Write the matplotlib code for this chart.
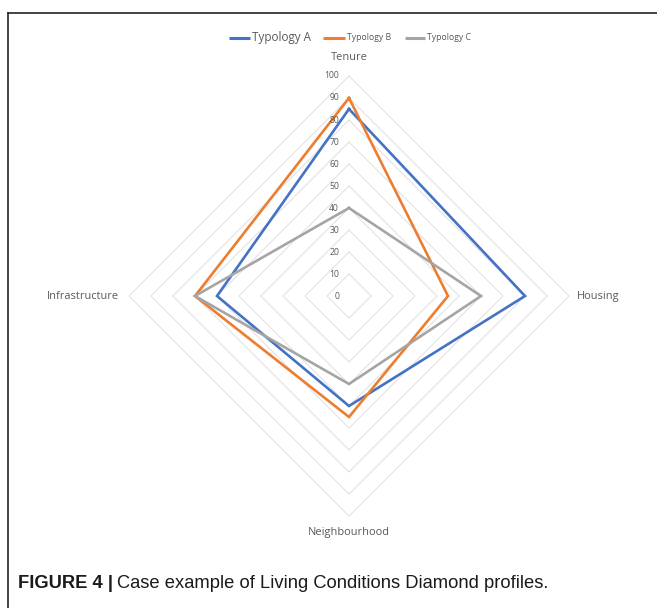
import numpy as np
import matplotlib
matplotlib.use("Agg")
import matplotlib.pyplot as plt

# Radar data
axes_labels = ["Tenure", "Housing", "Neighbourhood", "Infrastructure"]
typology_a = [85, 80, 50, 60]
typology_b = [90, 45, 55, 70]
typology_c = [40, 60, 40, 70]
series_names = ["Typology A", "Typology B", "Typology C"]
series_colors = ["#4472C4", "#ED7D31", "#A5A5A5"]
tick_values = [0, 10, 20, 30, 40, 50, 60, 70, 80, 90, 100]

W, H = 657, 608
DPI = 100
fig = plt.figure(figsize=(W / DPI, H / DPI), dpi=DPI)

# pixel geometry of the chart
cx, cy, scale = 349, 296, 2.2  # centre (px from top-left) and px per unit
ax = fig.add_axes([0, 0, 1, 1])
ax.set_xlim(-cx / scale, (W - cx) / scale)
ax.set_ylim(-(H - cy) / scale, cy / scale)
ax.axis("off")

angles = np.pi / 2 - np.arange(4) * np.pi / 2  # Tenure at top, clockwise


def to_xy(vals):
    v = np.asarray(vals, dtype=float)
    x = v * np.cos(angles)
    y = v * np.sin(angles)
    return np.append(x, x[0]), np.append(y, y[0])


# grid diamonds
for t in tick_values[1:]:
    gx, gy = to_xy([t] * 4)
    ax.plot(gx, gy, color="#E2E2E2", lw=0.8, zorder=1)

# value labels along the Tenure axis
for t in tick_values:
    ax.text(-4.5, t, str(t), ha="right", va="center", fontsize=6.2,
            color="#595959", family="Open Sans", zorder=3)

# series
for vals, name, col in zip([typology_a, typology_b, typology_c], series_names, series_colors):
    sx, sy = to_xy(vals)
    ax.plot(sx, sy, color=col, lw=1.9, zorder=2, solid_joinstyle="miter")

# category labels
lab_font = dict(fontsize=7.9, color="#595959", family="Open Sans")
ax.text(0, (cy - 58) / scale, axes_labels[0], ha="center", va="center", **lab_font)
ax.text((577 - cx) / scale, 0, axes_labels[1], ha="left", va="center", **lab_font)
ax.text(0, (cy - 533) / scale, axes_labels[2], ha="center", va="center", **lab_font)
ax.text((119 - cx) / scale, 0, axes_labels[3], ha="right", va="center", **lab_font)


def px(xp, yp):
    return (xp - cx) / scale, (cy - yp) / scale


# legend
leg_items = [(229, 250, 252, 8.4), (323, 345, 347, 6.2), (405, 425, 427, 6.2)]
for (x0, x1, xt, fs), name, col in zip(leg_items, series_names, series_colors):
    a = px(x0, 38)
    b = px(x1, 38)
    ax.plot([a[0], b[0]], [a[1], b[1]], color=col, lw=2.2, solid_capstyle="butt")
    tx, ty = px(xt, 38)
    ax.text(tx, ty, name, ha="left", va="center", fontsize=fs, color="#595959",
            family="Open Sans")

# frame lines
fig.add_artist(plt.Line2D([8 / W, 8 / W], [0, 1 - 13 / H], color="#222222", lw=1.2,
                          transform=fig.transFigure))
fig.add_artist(plt.Line2D([8 / W, 1], [1 - 13 / H, 1 - 13 / H], color="#222222", lw=1.2,
                          transform=fig.transFigure))

# caption
cap_y = 1 - 584 / H
t1 = fig.text(18 / W, cap_y, "FIGURE 4 |", fontsize=13.2, fontweight="bold",
              family="Liberation Sans", color="#1a1a1a", va="center", ha="left")
fig.canvas.draw()
bb = t1.get_window_extent()
fig.text((bb.x1 + 4) / W, cap_y, "Case example of Living Conditions Diamond profiles.",
         fontsize=13.2, family="Liberation Sans", color="#1a1a1a", va="center", ha="left")

fig.savefig("out.png", dpi=DPI)
